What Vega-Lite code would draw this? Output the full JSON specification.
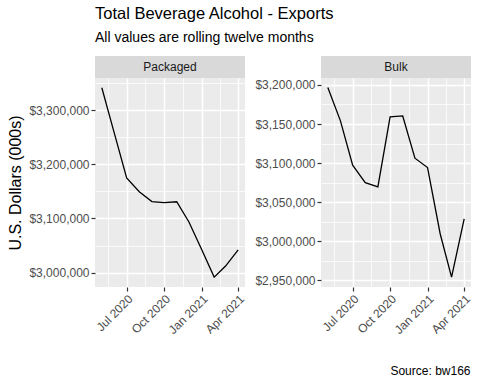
{
  "$schema": "https://vega.github.io/schema/vega-lite/v6.json",
  "padding": {"left": 7, "top": 5, "right": 7, "bottom": 5},
  "background": "white",
  "title": {
    "text": "Total Beverage Alcohol - Exports",
    "subtitle": "All values are rolling twelve months",
    "anchor": "start",
    "frame": "group",
    "font": "Liberation Sans",
    "subtitleFont": "Liberation Sans",
    "fontSize": 16.5,
    "subtitleFontSize": 14,
    "fontWeight": "normal",
    "color": "#000000",
    "subtitleColor": "#000000",
    "subtitlePadding": 9,
    "offset": 11
  },
  "data": {
    "values": [
      {"date": "2020-05-01", "type": "Packaged", "value": 3342000},
      {"date": "2020-06-01", "type": "Packaged", "value": 3257000},
      {"date": "2020-07-01", "type": "Packaged", "value": 3175000},
      {"date": "2020-08-01", "type": "Packaged", "value": 3149500},
      {"date": "2020-09-01", "type": "Packaged", "value": 3131300},
      {"date": "2020-10-01", "type": "Packaged", "value": 3129400},
      {"date": "2020-11-01", "type": "Packaged", "value": 3131000},
      {"date": "2020-12-01", "type": "Packaged", "value": 3093600},
      {"date": "2021-01-01", "type": "Packaged", "value": 3043000},
      {"date": "2021-02-01", "type": "Packaged", "value": 2991500},
      {"date": "2021-03-01", "type": "Packaged", "value": 3012000},
      {"date": "2021-04-01", "type": "Packaged", "value": 3041800},
      {"date": "2020-05-01", "type": "Bulk", "value": 3196700},
      {"date": "2020-06-01", "type": "Bulk", "value": 3154000},
      {"date": "2020-07-01", "type": "Bulk", "value": 3097200},
      {"date": "2020-08-01", "type": "Bulk", "value": 3075000},
      {"date": "2020-09-01", "type": "Bulk", "value": 3069500},
      {"date": "2020-10-01", "type": "Bulk", "value": 3159000},
      {"date": "2020-11-01", "type": "Bulk", "value": 3160300},
      {"date": "2020-12-01", "type": "Bulk", "value": 3106200},
      {"date": "2021-01-01", "type": "Bulk", "value": 3094200},
      {"date": "2021-02-01", "type": "Bulk", "value": 3009500},
      {"date": "2021-03-01", "type": "Bulk", "value": 2954000},
      {"date": "2021-04-01", "type": "Bulk", "value": 3028500}
    ]
  },
  "spacing": 8,
  "hconcat": [
    {
      "transform": [{"filter": "datum.type === 'Packaged'"}],
      "bounds": "flush",
      "spacing": 0,
      "vconcat": [
        {
          "width": 150,
          "height": 22,
          "view": {"fill": "#D9D9D9", "stroke": null},
          "transform": [{"aggregate": [{"op": "count", "as": "n"}], "groupby": ["type"]}],
          "mark": {"type": "text", "font": "Liberation Sans", "fontSize": 12, "color": "#1A1A1A", "baseline": "middle", "align": "center"},
          "encoding": {"text": {"field": "type"}}
        },
        {
          "width": 150,
          "height": 209,
          "view": {"fill": "#EBEBEB", "stroke": null},
          "resolve": {"axis": {"x": "independent", "y": "independent"}},
          "layer": [
            {
              "mark": {"type": "line", "opacity": 0},
              "encoding": {
                "x": {
                  "field": "date", "type": "temporal",
                  "scale": {"type": "utc", "nice": false, "domain": [{"year": 2020, "month": 4, "date": 14, "hours": 6, "utc": true}, {"year": 2021, "month": 4, "date": 17, "hours": 18, "utc": true}]},
                  "axis": {"orient": "bottom", "values": [{"year": 2020, "month": 5, "date": 16, "hours": 12, "utc": true}, {"year": 2020, "month": 8, "date": 16, "utc": true}, {"year": 2020, "month": 11, "date": 16, "utc": true}, {"year": 2021, "month": 2, "date": 15, "utc": true}], "grid": true, "gridWidth": 0.75, "labels": false, "ticks": false, "domain": false, "title": null}
                },
                "y": {
                  "field": "value", "type": "quantitative",
                  "scale": {"domain": [2973200, 3360000], "nice": false, "zero": false},
                  "axis": {"orient": "left", "values": [3050000, 3150000, 3250000, 3350000], "grid": true, "gridWidth": 0.75, "labels": false, "ticks": false, "domain": false, "title": null}
                }
              }
            },
            {
              "mark": {"type": "line", "color": "#000000", "strokeWidth": 1.3},
              "encoding": {
                "x": {
                  "field": "date", "type": "temporal",
                  "scale": {"type": "utc", "nice": false, "domain": [{"year": 2020, "month": 4, "date": 14, "hours": 6, "utc": true}, {"year": 2021, "month": 4, "date": 17, "hours": 18, "utc": true}]},
                  "axis": {"orient": "bottom", "values": [{"year": 2020, "month": 7, "date": 1, "utc": true}, {"year": 2020, "month": 10, "date": 1, "utc": true}, {"year": 2021, "month": 1, "date": 1, "utc": true}, {"year": 2021, "month": 4, "date": 1, "utc": true}], "format": "%b %Y", "grid": true, "title": null}
                },
                "y": {
                  "field": "value", "type": "quantitative",
                  "scale": {"domain": [2973200, 3360000], "nice": false, "zero": false},
                  "axis": {"orient": "left", "values": [3000000, 3100000, 3200000, 3300000], "format": "$,.0f", "grid": true, "title": "U.S. Dollars (000s)"}
                }
              }
            }
          ]
        }
      ]
    },
    {
      "transform": [{"filter": "datum.type === 'Bulk'"}],
      "bounds": "flush",
      "spacing": 0,
      "vconcat": [
        {
          "width": 150,
          "height": 22,
          "view": {"fill": "#D9D9D9", "stroke": null},
          "transform": [{"aggregate": [{"op": "count", "as": "n"}], "groupby": ["type"]}],
          "mark": {"type": "text", "font": "Liberation Sans", "fontSize": 12, "color": "#1A1A1A", "baseline": "middle", "align": "center"},
          "encoding": {"text": {"field": "type"}}
        },
        {
          "width": 150,
          "height": 209,
          "view": {"fill": "#EBEBEB", "stroke": null},
          "resolve": {"axis": {"x": "independent", "y": "independent"}},
          "layer": [
            {
              "mark": {"type": "line", "opacity": 0},
              "encoding": {
                "x": {
                  "field": "date", "type": "temporal",
                  "scale": {"type": "utc", "nice": false, "domain": [{"year": 2020, "month": 4, "date": 14, "hours": 6, "utc": true}, {"year": 2021, "month": 4, "date": 17, "hours": 18, "utc": true}]},
                  "axis": {"orient": "bottom", "values": [{"year": 2020, "month": 5, "date": 16, "hours": 12, "utc": true}, {"year": 2020, "month": 8, "date": 16, "utc": true}, {"year": 2020, "month": 11, "date": 16, "utc": true}, {"year": 2021, "month": 2, "date": 15, "utc": true}], "grid": true, "gridWidth": 0.75, "labels": false, "ticks": false, "domain": false, "title": null}
                },
                "y": {
                  "field": "value", "type": "quantitative",
                  "scale": {"domain": [2941300, 3208900], "nice": false, "zero": false},
                  "axis": {"orient": "left", "values": [2975000, 3025000, 3075000, 3125000, 3175000], "grid": true, "gridWidth": 0.75, "labels": false, "ticks": false, "domain": false, "title": null}
                }
              }
            },
            {
              "mark": {"type": "line", "color": "#000000", "strokeWidth": 1.3},
              "encoding": {
                "x": {
                  "field": "date", "type": "temporal",
                  "scale": {"type": "utc", "nice": false, "domain": [{"year": 2020, "month": 4, "date": 14, "hours": 6, "utc": true}, {"year": 2021, "month": 4, "date": 17, "hours": 18, "utc": true}]},
                  "axis": {"orient": "bottom", "values": [{"year": 2020, "month": 7, "date": 1, "utc": true}, {"year": 2020, "month": 10, "date": 1, "utc": true}, {"year": 2021, "month": 1, "date": 1, "utc": true}, {"year": 2021, "month": 4, "date": 1, "utc": true}], "format": "%b %Y", "grid": true, "title": "Source: bw166", "titleFontSize": 12, "titleAnchor": null, "titleAlign": "right", "titleBaseline": "alphabetic", "titleX": 149, "titleY": 87}
                },
                "y": {
                  "field": "value", "type": "quantitative",
                  "scale": {"domain": [2941300, 3208900], "nice": false, "zero": false},
                  "axis": {"orient": "left", "values": [2950000, 3000000, 3050000, 3100000, 3150000, 3200000], "format": "$,.0f", "grid": true, "title": null}
                }
              }
            }
          ]
        }
      ]
    }
  ],
  "config": {
    "font": "Liberation Sans",
    "view": {"stroke": null},
    "axis": {
      "domain": false,
      "tickColor": "#333333",
      "tickSize": 4,
      "tickWidth": 1.2,
      "labelColor": "#4D4D4D",
      "labelFont": "Liberation Sans",
      "labelFontSize": 12,
      "labelPadding": 2,
      "gridColor": "#FFFFFF",
      "gridWidth": 1.5,
      "gridOpacity": 1,
      "titleFont": "Liberation Sans",
      "titleFontSize": 16,
      "titleFontWeight": "normal",
      "titleColor": "#000000",
      "titlePadding": 5
    },
    "axisX": {"labelAngle": -45, "labelAlign": "right", "labelBaseline": "top", "labelOverlap": false, "labelFlush": false}
  }
}
